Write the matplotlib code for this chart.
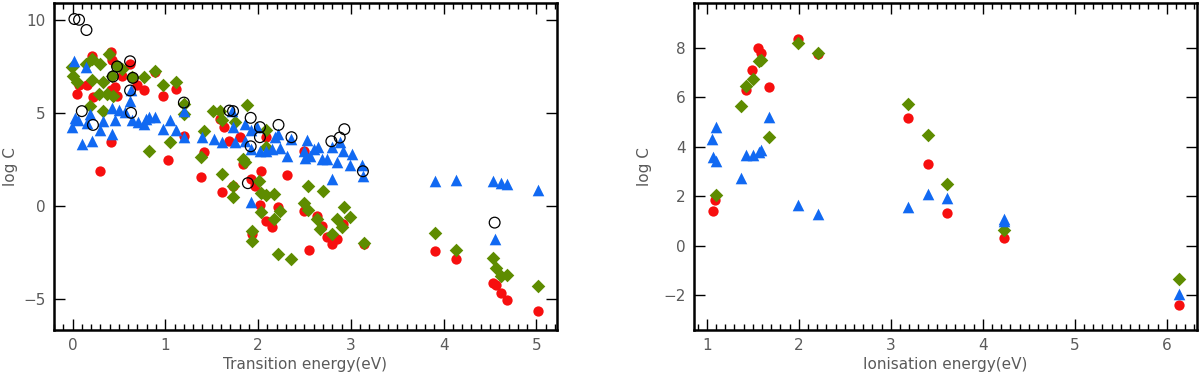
import matplotlib
matplotlib.use("Agg")
import matplotlib.pyplot as plt
from matplotlib.ticker import MultipleLocator

# ---- left panel: log C vs transition energy ----
trans_red_x = [0.21, 0.41, 0.42, 0.065, 0.155, 0.22, 0.46, 0.53, 0.62, 0.69, 0.77, 0.89,
               0.98, 1.11, 0.41, 0.48, 0.64, 0.05, 0.3, 0.41, 1.03, 1.2, 1.38, 1.42, 1.59,
               1.63, 1.69, 1.81, 1.84, 1.61, 1.73, 1.92, 2.03, 1.97, 2.02, 2.09, 2.15, 2.21,
               1.93, 2.09, 2.31, 2.5, 2.49, 2.63, 2.69, 2.55, 2.74, 2.85, 2.8, 2.92, 3.14,
               3.91, 4.13, 4.53, 4.56, 4.62, 4.68, 5.02]
trans_red_y = [8.08, 8.26, 7.85, 6.47, 6.47, 5.84, 6.38, 7.0, 7.63, 6.47, 6.2, 7.18,
               5.93, 6.29, 6.2, 5.93, 6.91, 6.0, 1.9, 3.42, 2.47, 3.78, 1.54, 2.88, 4.68,
               4.23, 3.51, 3.69, 2.26, 0.73, 1.09, 1.45, 1.9, 1.09, 0.02, -0.79, -1.15, -0.04,
               -1.5, 3.69, 1.68, 2.95, -0.3, -0.55, -1.06, -2.37, -1.69, -1.77, -2.04, -0.97, -2.04,
               -2.44, -2.87, -4.16, -4.25, -4.68, -5.04, -5.65]

trans_green_x = [-0.01, 0.01, 0.05, 0.14, 0.21, 0.3, 0.33, 0.21, 0.39, 0.48, 0.42, 0.53,
                 0.64, 0.77, 0.89, 0.98, 1.11, 0.37, 0.44, 0.28, 0.19, 0.33, 1.2, 1.2,
                 0.82, 1.05, 1.38, 1.42, 1.51, 1.59, 1.61, 1.75, 1.88, 1.84, 1.86, 2.09,
                 2.09, 1.61, 1.73, 1.73, 2.01, 2.03, 2.09, 2.17, 2.03, 2.24, 2.17, 1.93,
                 1.93, 2.21, 2.36, 2.54, 2.49, 2.54, 2.63, 2.67, 2.7, 2.93, 2.85, 2.99,
                 2.9, 2.8, 3.14, 3.91, 4.13, 4.53, 4.56, 4.62, 4.68, 5.02]
trans_green_y = [7.45, 7.0, 6.65, 7.63, 7.9, 7.63, 6.65, 6.74, 8.17, 7.49, 7.0, 7.36,
                 6.91, 6.91, 7.27, 6.47, 6.65, 6.02, 5.93, 6.02, 5.38, 5.12, 5.5, 4.95,
                 2.94, 3.42, 2.62, 4.0, 5.12, 5.12, 4.59, 4.5, 5.4, 2.52, 2.34, 4.05,
                 3.15, 1.7, 1.06, 0.46, 1.32, 0.68, 0.61, 0.65, -0.34, -0.25, -0.7, -1.33,
                 -1.87, -2.57, -2.88, 1.09, 0.15, -0.22, -0.7, -1.24, 0.8, -0.05, -0.7, -0.61,
                 -1.15, -1.5, -2.02, -1.45, -2.35, -2.8, -3.33, -3.75, -3.69, -4.28]

trans_blue_x = [0.02, 0.15, -0.01, 0.03, 0.06, 0.1, 0.155, 0.19, 0.215, 0.3, 0.33, 0.42,
                0.42, 0.46, 0.5, 0.57, 0.62, 0.63, 0.64, 0.71, 0.77, 0.79, 0.82, 0.89,
                0.98, 1.05, 1.11, 1.2, 1.2, 1.39, 1.52, 1.61, 1.72, 1.73, 1.75, 1.86,
                1.86, 1.92, 1.92, 1.99, 2.02, 2.08, 2.15, 2.18, 2.22, 2.24, 2.31, 2.35,
                2.49, 2.53, 2.51, 2.56, 2.6, 2.65, 2.69, 2.74, 2.8, 2.85, 2.88, 2.92,
                2.99, 3.01, 2.8, 3.12, 3.13, 1.92, 3.91, 4.13, 4.53, 4.62, 4.68, 5.02, 4.55]
trans_blue_y = [7.8, 7.45, 4.25, 4.7, 4.64, 3.33, 4.45, 4.95, 3.51, 4.05, 4.55, 5.25,
                3.87, 4.59, 5.15, 5.05, 5.66, 6.2, 4.59, 4.5, 4.41, 4.68, 4.76, 4.76,
                4.14, 4.59, 4.05, 5.12, 3.69, 3.69, 3.6, 3.45, 5.12, 4.23, 3.42, 4.41,
                3.51, 4.05, 3.06, 4.23, 2.97, 2.97, 3.06, 3.69, 3.87, 3.1, 2.7, 3.6,
                2.97, 3.55, 2.55, 2.7, 3.06, 3.15, 2.52, 2.52, 3.15, 2.34, 3.42, 2.97,
                2.17, 2.8, 1.45, 2.17, 1.63, 0.19, 1.36, 1.40, 1.31, 1.24, 1.18, 0.86, -1.8]

trans_open_x = [0.02, 0.07, 0.15, 0.1, 0.22, 0.48, 0.435, 0.62, 0.65, 0.62, 0.63, 1.2,
                1.69, 1.73, 1.92, 1.92, 2.02, 2.02, 2.22, 2.36, 1.89, 2.79, 2.88, 2.93,
                3.13, 4.55]
trans_open_y = [10.04, 10.0, 9.45, 5.09, 4.35, 7.49, 6.95, 7.77, 6.88, 6.2, 5.0, 5.55,
                5.12, 5.09, 4.73, 3.2, 4.23, 3.69, 4.35, 3.69, 1.22, 3.47, 3.67, 4.12,
                1.86, -0.9]

# ---- right panel: log C vs ionisation energy ----
ion_red_x = [1.07, 1.09, 1.43, 1.49, 1.56, 1.59, 1.68, 1.99, 2.21, 3.19, 3.41, 3.61, 4.23, 6.13]
ion_red_y = [1.39, 1.86, 6.28, 7.09, 7.97, 7.8, 6.39, 8.34, 7.74, 5.14, 3.3, 1.32, 0.32, -2.41]

ion_green_x = [1.10, 1.37, 1.43, 1.50, 1.57, 1.59, 1.68, 1.99, 2.21, 3.19, 3.41, 3.61, 4.23, 6.13]
ion_green_y = [2.03, 5.66, 6.44, 6.74, 7.45, 7.48, 4.38, 8.17, 7.8, 5.74, 4.47, 2.51, 0.65, -1.35]

ion_blue_x = [1.06, 1.10, 1.07, 1.10, 1.37, 1.43, 1.50, 1.57, 1.59, 1.68, 1.99, 2.21,
              3.19, 3.41, 3.61, 4.23, 4.23, 6.13]
ion_blue_y = [4.33, 4.8, 3.58, 3.42, 2.73, 3.66, 3.68, 3.79, 3.88, 5.2, 1.63, 1.29,
              1.56, 2.07, 1.93, 1.02, 1.1, -1.94]

RED = "#f70f0f"
GREEN = "#5e8c00"
BLUE = "#1169f2"
TEXT = "#5a5a5a"


def style_axes(ax, xlim, ylim, ymajor, xlabel, ylabel_x):
    ax.set_xlim(*xlim)
    ax.set_ylim(*ylim)
    ax.xaxis.set_major_locator(MultipleLocator(1))
    ax.xaxis.set_minor_locator(MultipleLocator(0.1))
    ax.yaxis.set_major_locator(MultipleLocator(ymajor))
    ax.tick_params(which="both", direction="in", top=True, right=True,
                   labelcolor=TEXT, labelsize=11, width=1)
    ax.tick_params(which="major", length=8, pad=6)
    ax.tick_params(which="minor", length=4)
    ax.tick_params(axis="y", which="minor", left=False, right=False)
    for sp in ax.spines.values():
        sp.set_linewidth(1.8)
    ax.set_xlabel(xlabel, color=TEXT, fontsize=11, labelpad=3)
    ax.set_ylabel("log C", color=TEXT, fontsize=11)
    ax.yaxis.set_label_coords(ylabel_x, 0.5)


fig = plt.figure(figsize=(12, 3.78), dpi=100)
ax1 = fig.add_axes([0.045, 0.127, 0.419, 0.865])
ax2 = fig.add_axes([0.5786, 0.127, 0.4187, 0.865])

ax1.scatter(trans_red_x, trans_red_y, s=55, marker="o", color=RED, linewidths=0, zorder=2)
ax1.scatter(trans_green_x, trans_green_y, s=48, marker="D", color=GREEN, linewidths=0, zorder=3)
ax1.scatter(trans_blue_x, trans_blue_y, s=70, marker="^", color=BLUE, linewidths=0, zorder=4)
ax1.scatter(trans_open_x, trans_open_y, s=60, marker="o", facecolors="none",
            edgecolors="black", linewidths=0.9, zorder=5)
style_axes(ax1, (-0.2, 5.22), (-6.67, 10.9), 5, "Transition energy(eV)", -0.072)

ax2.scatter(ion_red_x, ion_red_y, s=55, marker="o", color=RED, linewidths=0, zorder=2)
ax2.scatter(ion_green_x, ion_green_y, s=48, marker="D", color=GREEN, linewidths=0, zorder=3)
ax2.scatter(ion_blue_x, ion_blue_y, s=70, marker="^", color=BLUE, linewidths=0, zorder=4)
style_axes(ax2, (0.865, 6.326), (-3.4, 9.8), 2, "Ionisation energy(eV)", -0.084)

fig.savefig("out.png", dpi=100)
